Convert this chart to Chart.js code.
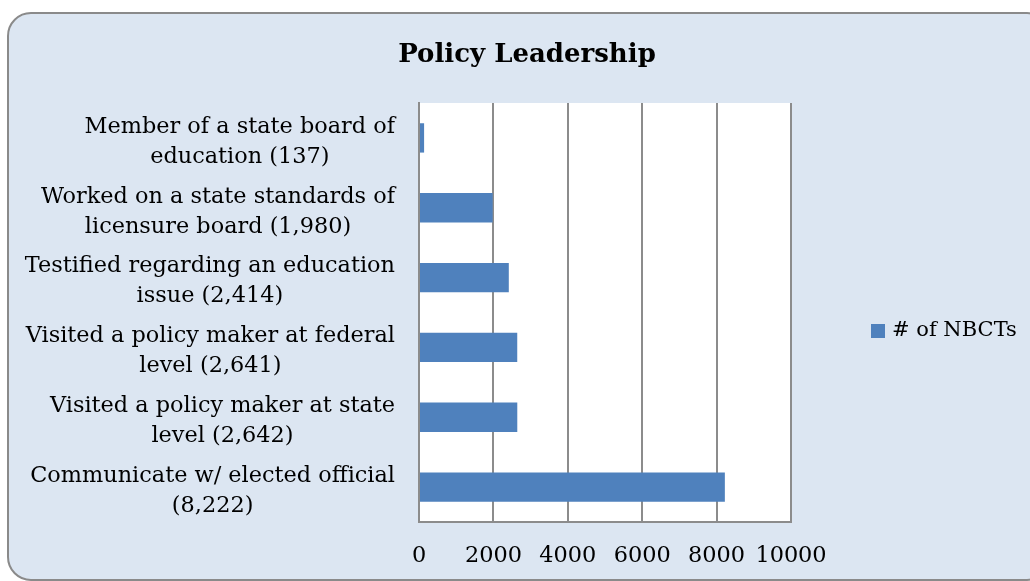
<!DOCTYPE html>
<html>
<head>
<meta charset="utf-8">
<script src="https://cdn.jsdelivr.net/npm/chart.js@4/dist/chart.umd.min.js"></script>
<style>
  html,body{margin:0;padding:0;background:#fff;width:1030px;height:581px;overflow:hidden;}
  #frame{position:absolute;left:7px;top:12px;width:1040px;height:565px;border:2px solid #8a8a8a;border-radius:24px;background:#dce6f2;}
  #wrap{position:absolute;left:0;top:0;width:1030px;height:581px;}
</style>
</head>
<body>
<div id="frame"></div>
<div id="wrap"><canvas id="grafico"></canvas></div>
<script>
// dados do gráfico
const titulo = 'Policy Leadership';
const serieNome = '# of NBCTs';
const categorias = [
  ['Member of a state board of','education (137)'],
  ['Worked on a state standards of','licensure board (1,980)'],
  ['Testified regarding an education','issue (2,414)'],
  ['Visited a policy maker at federal','level (2,641)'],
  ['Visited a policy maker at state','level (2,642)'],
  ['Communicate w/ elected official','(8,222)']
];
const valores = [137, 1980, 2414, 2641, 2642, 8222];
const eixoMin = 0, eixoMax = 10000, eixoPasso = 2000;

const FONTE = '"DejaVu Serif", serif';
const azul = '#4f81bd', cinza = '#8c8c8c';

// fundo branco da área do gráfico + título + rótulos do eixo Y centralizados + legenda
const pluginExtras = {
  id:'extras',
  beforeDraw(chart){
    const a = chart.chartArea, ctx = chart.ctx;
    ctx.save(); ctx.fillStyle = '#fff';
    ctx.fillRect(a.left, a.top, a.right - a.left, a.bottom - a.top);
    ctx.restore();
  },
  afterDraw(chart){
    const ctx = chart.ctx, y = chart.scales.y;
    ctx.save();
    ctx.fillStyle = '#000'; ctx.textBaseline = 'middle'; ctx.textAlign = 'center';
    // título
    ctx.font = 'bold 26px ' + FONTE;
    ctx.fillText(titulo, 527, 55);
    // rótulos das categorias
    ctx.font = '22.4px ' + FONTE;
    categorias.forEach((linhas, i) => {
      const py = y.getPixelForTick(i) + 4;
      const larg = Math.max(...linhas.map(l => ctx.measureText(l).width));
      const cx = 395 - larg / 2;
      linhas.forEach((l, j) => ctx.fillText(l, cx, py + (j - (linhas.length - 1) / 2) * 30));
    });
    // legenda
    const ds = chart.data.datasets[0];
    ctx.fillStyle = ds.backgroundColor;
    ctx.fillRect(871, 324, 14, 14);
    ctx.fillStyle = '#000'; ctx.textAlign = 'left';
    ctx.font = '21px ' + FONTE;
    ctx.fillText(ds.label, 892, 331);
    ctx.restore();
  }
};

new Chart(document.getElementById('grafico'), {
  type:'bar',
  data:{
    labels: categorias,
    datasets:[{ label: serieNome, data: valores, backgroundColor: azul, categoryPercentage: 1, barPercentage: 0.42 }]
  },
  options:{
    indexAxis:'y',
    responsive:true, maintainAspectRatio:false, animation:false,
    layout:{ padding:{ left:0, right:239, top:103, bottom:0 } },
    scales:{
      x:{
        min: eixoMin, max: eixoMax,
        ticks:{ stepSize: eixoPasso, color:'#000', padding:21, maxRotation:0, autoSkip:false,
                font:{ family: FONTE, size:22.4 }, callback: v => String(v) },
        grid:{ color: cinza, lineWidth: 2, drawTicks:false },
        border:{ display:true, color: cinza, width: 2 },
        afterFit(scale){ scale.height = 59; }
      },
      y:{
        ticks:{ display:false },
        grid:{ display:false },
        border:{ display:true, color: cinza, width: 2 },
        afterFit(scale){ scale.width = 419; }
      }
    },
    plugins:{
      legend:{ display:false },
      tooltip:{ enabled:false },
      title:{ display:false }
    }
  },
  plugins:[pluginExtras]
});
</script>
</body>
</html>
